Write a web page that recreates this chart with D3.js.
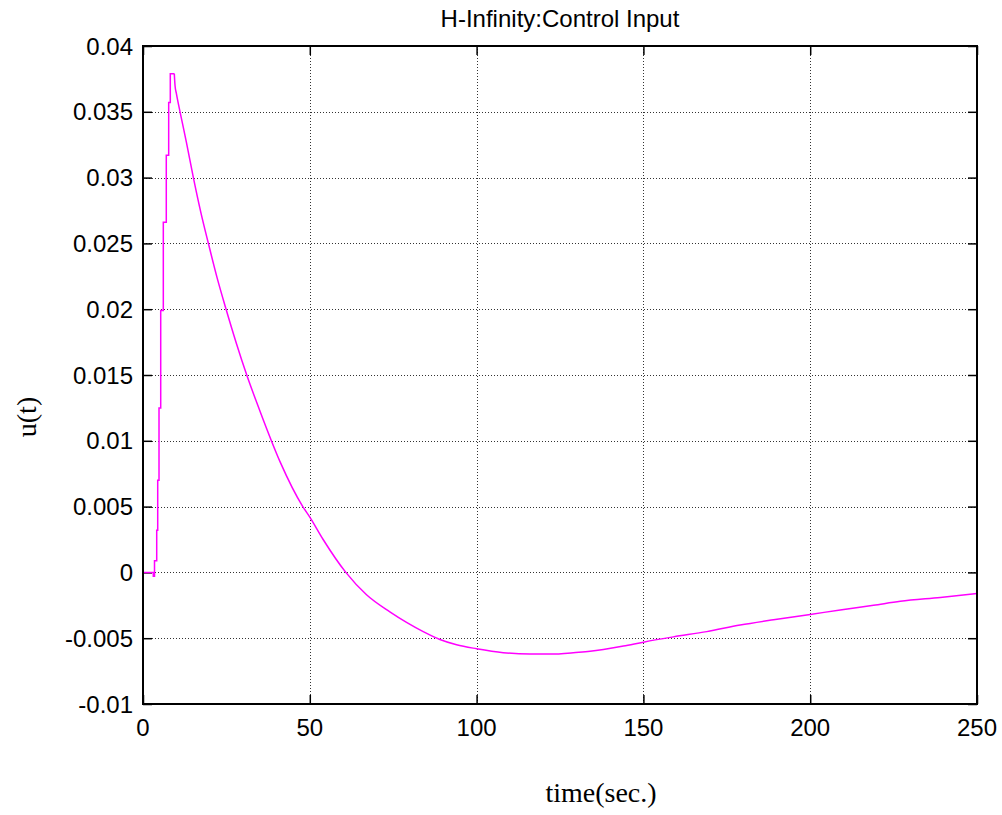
<!DOCTYPE html>
<html>
<head>
<meta charset="utf-8">
<script src="https://cdn.jsdelivr.net/npm/d3@7"></script>
<style>
  body { margin: 0; background: #fff; }
  svg { display: block; }
</style>
</head>
<body>
<svg id="chart" width="1002" height="815"></svg>
<script>
// start-up staircase (sample-and-hold)
const riseTime = [0, 2.7, 3.09, 3.45, 4.11, 4.41, 4.80, 5.31, 6.09, 6.98, 7.70, 8.18];
const riseU = [0, 0, -0.0003, 0.00088, 0.0032, 0.0070, 0.0125, 0.0199, 0.0266, 0.0317, 0.0357, 0.0379];

// decay and slow recovery
const decayTime = [9.38, 9.6, 10.0, 11.1, 13.0, 15.1, 17.3, 19.6, 22.2, 24.9, 28.0, 31.1, 35.0, 41.1,
  47.9, 50, 54, 60.8, 67, 74, 79, 84, 89, 94, 100, 108, 116, 124, 129, 134, 144, 150,
  159, 169, 179, 189, 200, 209, 219, 227, 239, 250];
const decayU = [0.0379, 0.0370, 0.0364, 0.0350, 0.0327, 0.0300, 0.0274, 0.0250, 0.0224, 0.0200, 0.0174, 0.0150, 0.0123, 0.0084,
  0.0050, 0.0042, 0.0025, 0, -0.0017, -0.0030, -0.0038, -0.0045, -0.0051, -0.0055, -0.0058, -0.0061, -0.0062, -0.0062, -0.0061, -0.0060, -0.0056, -0.0053,
  -0.0049, -0.0045, -0.0040, -0.0036, -0.0032, -0.00285, -0.0025, -0.0022, -0.0019, -0.0016];

const xTicks = [0, 50, 100, 150, 200, 250];
const yTicks = [-0.01, -0.005, 0, 0.005, 0.01, 0.015, 0.02, 0.025, 0.03, 0.035, 0.04];
const yTickLabels = ['-0.01', '-0.005', '0', '0.005', '0.01', '0.015', '0.02', '0.025', '0.03', '0.035', '0.04'];

const svg = d3.select('#chart');
const pLeft = 143, pTop = 46, pRight = 977, pBottom = 704;

const x = d3.scaleLinear().domain([0, 250]).range([pLeft, pRight]);
const y = d3.scaleLinear().domain([-0.01, 0.04]).range([pBottom, pTop]);

// grid
const grid = svg.append('g')
    .attr('stroke', '#333')
    .attr('stroke-width', 1)
    .attr('stroke-dasharray', '1,2');
grid.selectAll('line.gx')
    .data(xTicks.slice(1, -1))
    .enter()
    .append('line')
    .attr('x1', (d) => Math.round(x(d)) + 0.5).attr('x2', (d) => Math.round(x(d)) + 0.5)
    .attr('y1', pTop).attr('y2', pBottom);
grid.selectAll('line.gy')
    .data(yTicks.slice(1, -1))
    .enter()
    .append('line')
    .attr('y1', (d) => Math.round(y(d)) + 0.5).attr('y2', (d) => Math.round(y(d)) + 0.5)
    .attr('x1', pLeft).attr('x2', pRight);

// axes (inward ticks on all four sides)
const tickLen = 9;
const fmtY = (d) => yTickLabels[yTicks.indexOf(d)];

const axL = svg.append('g')
    .attr('transform', `translate(${pLeft},0)`)
    .call(d3.axisRight(y).tickValues(yTicks).tickSize(tickLen).tickFormat(''));
const axR = svg.append('g')
    .attr('transform', `translate(${pRight},0)`)
    .call(d3.axisLeft(y).tickValues(yTicks).tickSize(tickLen).tickFormat(''));
const axB = svg.append('g')
    .attr('transform', `translate(0,${pBottom})`)
    .call(d3.axisTop(x).tickValues(xTicks).tickSize(tickLen).tickFormat(''));
const axT = svg.append('g')
    .attr('transform', `translate(0,${pTop})`)
    .call(d3.axisBottom(x).tickValues(xTicks).tickSize(tickLen).tickFormat(''));

[axL, axR, axB, axT].forEach((g) => {
    g.select('.domain').remove();
    g.selectAll('.tick line').attr('stroke', '#000').attr('stroke-width', 1.5);
});

// tick labels
svg.append('g')
    .selectAll('text')
    .data(yTicks)
    .enter()
    .append('text')
    .attr('x', 133)
    .attr('y', (d) => y(d) + 8.5)
    .attr('text-anchor', 'end')
    .attr('font-family', 'Liberation Sans, Arial, sans-serif')
    .attr('font-size', 24)
    .text(fmtY);

svg.append('g')
    .selectAll('text')
    .data(xTicks)
    .enter()
    .append('text')
    .attr('x', (d) => x(d))
    .attr('y', 736)
    .attr('text-anchor', 'middle')
    .attr('font-family', 'Liberation Sans, Arial, sans-serif')
    .attr('font-size', 24)
    .text((d) => d);

// curve
svg.append('path')
    .datum(riseTime.map((t, i) => [t, riseU[i]]).concat([[decayTime[0], riseU[riseU.length - 1]]]))
    .attr('d', d3.line().x((d) => x(d[0])).y((d) => y(d[1])).curve(d3.curveStepAfter))
    .attr('fill', 'none')
    .attr('stroke', '#ff00ff')
    .attr('stroke-width', 1.5);
svg.append('path')
    .datum(decayTime.map((t, i) => [t, decayU[i]]))
    .attr('d', d3.line().x((d) => x(d[0])).y((d) => y(d[1])).curve(d3.curveMonotoneX))
    .attr('fill', 'none')
    .attr('stroke', '#ff00ff')
    .attr('stroke-width', 1.5);

// box
svg.append('rect')
    .attr('x', pLeft).attr('y', pTop)
    .attr('width', pRight - pLeft).attr('height', pBottom - pTop)
    .attr('fill', 'none')
    .attr('stroke', '#000')
    .attr('stroke-width', 2);

// titles
svg.append('text')
    .attr('x', (pLeft + pRight) / 2)
    .attr('y', 27)
    .attr('text-anchor', 'middle')
    .attr('font-family', 'Liberation Sans, Arial, sans-serif')
    .attr('font-size', 24)
    .text('H-Infinity:Control Input');

svg.append('text')
    .attr('x', 601)
    .attr('y', 802)
    .attr('text-anchor', 'middle')
    .attr('font-family', 'Liberation Serif, Times New Roman, serif')
    .attr('font-size', 28)
    .text('time(sec.)');

svg.append('text')
    .attr('transform', 'translate(36,417) rotate(-90)')
    .attr('text-anchor', 'middle')
    .attr('font-family', 'Liberation Serif, Times New Roman, serif')
    .attr('font-size', 28)
    .text('u(t)');
</script>
</body>
</html>
